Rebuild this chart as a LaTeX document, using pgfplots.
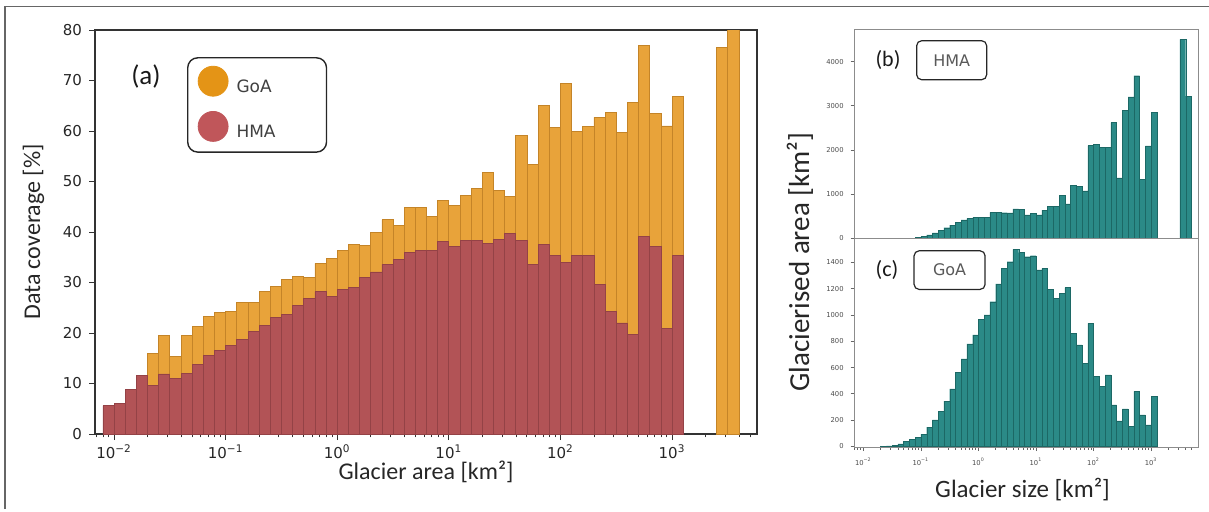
\documentclass[border=0pt]{standalone}
\usepackage{fontspec}
\setmainfont{Carlito}
\newfontfamily\dejavu{DejaVu Sans}
\usepackage{pgfplots}
\usepackage{pgfplotstable}
\pgfplotsset{compat=1.18}

\definecolor{goa}{RGB}{232,163,58}
\definecolor{goaedge}{RGB}{196,132,40}
\definecolor{hma}{RGB}{178,83,86}
\definecolor{hmaedge}{RGB}{148,66,70}
\definecolor{goaleg}{RGB}{228,148,22}
\definecolor{hmaleg}{RGB}{192,86,90}
\definecolor{tealbar}{RGB}{43,138,135}
\definecolor{tealedge}{RGB}{28,104,101}

% data coverage per log10 bin (bin centre), GoA and HMA in %
\pgfplotstableread{
x     goa   hma
-2.05 nan   5.6
-1.95 nan   6.1
-1.85 nan   8.9
-1.75 nan   11.6
-1.65 16.0  9.7
-1.55 19.5  11.9
-1.45 15.3  11.0
-1.35 19.6  12.0
-1.25 21.3  13.7
-1.15 23.2  15.5
-1.05 24.0  16.5
-0.95 24.3  17.6
-0.85 26.0  18.8
-0.75 26.0  20.3
-0.65 28.2  21.5
-0.55 29.2  23.1
-0.45 30.6  23.6
-0.35 31.2  25.5
-0.25 31.0  26.9
-0.15 33.8  28.2
-0.05 34.8  27.2
0.05  36.4  28.6
0.15  37.6  29.0
0.25  37.4  31.0
0.35  39.9  32.1
0.45  42.4  33.6
0.55  41.3  34.5
0.65  44.8  36.0
0.75  44.9  36.4
0.85  43.0  36.4
0.95  46.3  38.1
1.05  45.3  37.1
1.15  47.3  38.4
1.25  48.6  38.4
1.35  51.8  37.8
1.45  48.3  38.6
1.55  47.0  39.7
1.65  59.2  38.3
1.75  53.3  33.5
1.85  65.0  37.6
1.95  60.7  35.4
2.05  69.4  34.0
2.15  60.0  35.4
2.25  60.9  35.4
2.35  62.7  29.7
2.45  63.7  24.2
2.55  59.7  22.0
2.65  65.7  19.7
2.75  76.9  39.2
2.85  63.4  37.1
2.95  61.0  20.9
3.05  66.8  35.4
3.45  76.6  nan
3.55  81.0  nan
}\coverage

% glacierised area per log10 bin, km2
\pgfplotstableread{
x     hma   goa
-1.65 nan   2
-1.55 nan   4
-1.45 nan   8
-1.35 nan   20
-1.25 nan   38
-1.15 nan   56
-1.05 15    71
-0.95 40    94
-0.85 80    147
-0.75 125   203
-0.65 180   266
-0.55 240   344
-0.45 300   438
-0.35 360   562
-0.25 415   666
-0.15 450   780
-0.05 470   848
0.05  470   967
0.15  480   1000
0.25  585   1101
0.35  590   1236
0.45  580   1355
0.55  575   1405
0.65  665   1499
0.75  660   1474
0.85  530   1443
0.95  570   1451
1.05  530   1342
1.15  640   1355
1.25  720   1195
1.35  720   1127
1.45  970   1165
1.55  780   1208
1.65  1200  861
1.75  1175  772
1.85  1075  633
1.95  2100  937
2.05  2120  532
2.15  2060  456
2.25  2060  544
2.35  2620  316
2.45  1370  195
2.55  2900  286
2.65  3200  152
2.75  3680  418
2.85  1330  240
2.95  2090  165
3.05  2850  380
3.55  4500  nan
3.65  3220  nan
}\area

\pgfplotsset{
  logminor/.style={minor xtick={-2.1549,-2.0969,-2.0458,-1.699,-1.5229,-1.3979,-1.301,-1.2218,-1.1549,-1.0969,-1.0458,-0.699,-0.5229,-0.3979,-0.301,-0.2218,-0.1549,-0.0969,-0.0458,0.301,0.4771,0.6021,0.699,0.7782,0.8451,0.9031,0.9542,1.301,1.4771,1.6021,1.699,1.7782,1.8451,1.9031,1.9542,2.301,2.4771,2.6021,2.699,2.7782,2.8451,2.9031,2.9542,3.301,3.4771,3.6021,3.699}},
  decadelabels/.style={xtick={-2,-1,0,1,2,3},
    xticklabels={10\textsuperscript{−2},10\textsuperscript{−1},10\textsuperscript{0},10\textsuperscript{1},10\textsuperscript{2},10\textsuperscript{3}}},
}

\begin{document}
\begin{tikzpicture}
\path[use as bounding box] (0pt,0pt) rectangle (604.5pt,255.5pt);
\draw[black!60, line width=0.6pt] (2.5pt,1pt) -- (2.5pt,252.2pt) -- (604.5pt,252.2pt);

% (a) data coverage
\begin{axis}[
  at={(47.5pt,38.5pt)}, anchor=south west, scale only axis,
  width=331pt, height=202pt,
  xmin=-2.171, xmax=3.761, ymin=0, ymax=80,
  axis line style={black!80, line width=0.6pt},
  tick align=outside, tick pos=left,
  decadelabels, logminor,
  ytick={0,10,...,80},
  major tick length=3pt, minor tick length=1.7pt,
  every tick/.style={black!80, line width=0.5pt},
  tick label style={font=\dejavu\fontsize{7.5}{9}\selectfont, text=black!85},
  xticklabel style={yshift=1pt},
  /pgf/number format/assume math mode=true,
  xlabel={Glacier area [km²]}, ylabel={Data coverage [\%]},
  label style={font=\fontsize{12}{14}\selectfont, text=black!85},
  xlabel style={at={(axis description cs:0.5,-0.093)}, anchor=center},
  ylabel style={at={(axis description cs:-0.093,0.5)}, anchor=center},
  legend cell align=left,
  legend style={at={(axis description cs:0.139,0.933)}, anchor=north west,
    draw=black!85, line width=0.7pt, rounded corners=5pt, fill=white,
    font=\dejavu\fontsize{8.5}{10}\selectfont, text=black!75,
    inner xsep=5pt, inner ysep=4pt, row sep=6pt,
    /tikz/every odd column/.append style={column sep=2pt}},
]
\addplot[ybar, bar width=0.1, bar shift=0pt, fill=goa, draw=goaedge, line width=0.4pt,
  legend image code/.code={\fill[goaleg] (0pt,3pt) circle (7.5pt);}]
  table[x=x, y=goa]{\coverage};
\addlegendentry{\makebox[38pt][l]{GoA}}
\addplot[ybar, bar width=0.1, bar shift=0pt, fill=hma, draw=hmaedge, line width=0.4pt,
  legend image code/.code={\fill[hmaleg] (0pt,3pt) circle (7.5pt);}]
  table[x=x, y=hma]{\coverage};
\addlegendentry{\makebox[38pt][l]{HMA}}
\node[font=\fontsize{13.5}{15}\selectfont, text=black!90] at (axis description cs:0.077,0.886) {(a)};
\end{axis}

% (b) HMA glacierised area
\begin{axis}[
  at={(427.15pt,136.35pt)}, anchor=south west, scale only axis,
  width=172pt, height=104.5pt,
  xmin=-2.157, xmax=3.82, ymin=0, ymax=4730,
  axis line style={black!45, line width=0.6pt},
  tick align=outside, tick pos=left,
  xtick=\empty, ytick={0,1000,...,4000}, scaled y ticks=false,
  major tick length=1.8pt,
  every tick/.style={black!60, line width=0.4pt},
  tick label style={font=\dejavu\fontsize{3.4}{4}\selectfont, text=black!70},
  /pgf/number format/assume math mode=true,
  /pgf/number format/1000 sep={},
]
\addplot[ybar, bar width=0.1, bar shift=0pt, fill=tealbar, draw=tealedge, line width=0.15pt]
  table[x=x, y=hma]{\area};
\node[font=\fontsize{11}{13}\selectfont, text=black!90] at (axis description cs:0.098,0.853) {(b)};
\node[draw=black!85, line width=0.6pt, rounded corners=2.5pt, minimum width=35pt, minimum height=19.5pt,
  font=\dejavu\fontsize{8}{9}\selectfont, text=black!65] at (axis description cs:0.283,0.852) {HMA};
\end{axis}

% (c) GoA glacierised area
\begin{axis}[
  at={(427.15pt,31.75pt)}, anchor=south west, scale only axis,
  width=172pt, height=104.6pt,
  xmin=-2.157, xmax=3.82, ymin=-8, ymax=1583,
  axis line style={black!45, line width=0.6pt},
  tick align=outside, tick pos=left,
  decadelabels, logminor,
  ytick={0,200,...,1400}, scaled y ticks=false,
  major tick length=1.8pt, minor tick length=1pt,
  every tick/.style={black!60, line width=0.4pt},
  tick label style={font=\dejavu\fontsize{3.4}{4}\selectfont, text=black!70},
  /pgf/number format/assume math mode=true,
  /pgf/number format/1000 sep={},
  xlabel={Glacier size [km²]}, ylabel={Glacierised area [km²]},
  xlabel style={font=\fontsize{12.5}{14}\selectfont, text=black!85,
    at={(axis description cs:0.489,-0.203)}, anchor=center},
  ylabel style={font=\fontsize{14.5}{16}\selectfont, text=black!85,
    at={(axis description cs:-0.158,0.887)}, anchor=center},
]
\addplot[ybar, bar width=0.1, bar shift=0pt, fill=tealbar, draw=tealedge, line width=0.15pt]
  table[x=x, y=goa]{\area};
\node[font=\fontsize{11}{13}\selectfont, text=black!90] at (axis description cs:0.095,0.848) {(c)};
\node[draw=black!85, line width=0.6pt, rounded corners=2.5pt, minimum width=35.5pt, minimum height=19.3pt,
  font=\dejavu\fontsize{8}{9}\selectfont, text=black!65] at (axis description cs:0.277,0.848) {GoA};
\end{axis}
\end{tikzpicture}
\end{document}
